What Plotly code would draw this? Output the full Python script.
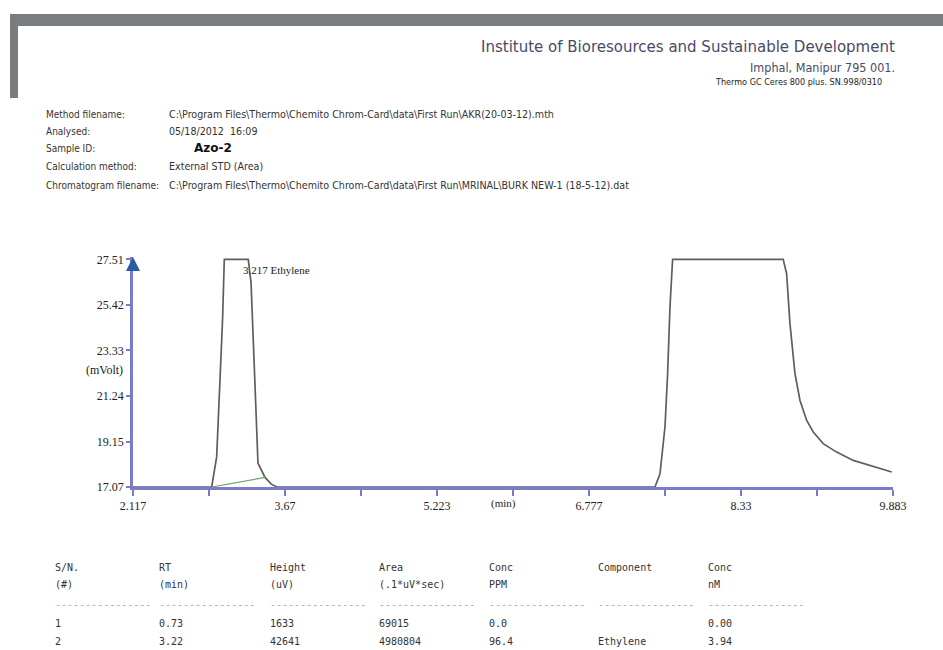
import plotly.graph_objects as go

# ---------------- data ----------------
retention_time = [2.117, 2.921, 2.972, 3.006, 3.032, 3.050, 3.295, 3.310, 3.323, 3.363, 3.394, 3.466, 3.530, 3.588,
                  7.451, 7.502, 7.553, 7.580, 7.604, 7.631, 8.761, 8.796, 8.830, 8.881, 8.932, 9.000,
                  9.068, 9.170, 9.307, 9.477, 9.682, 9.870]
signal_mv = [17.07, 17.07, 18.45, 21.82, 24.71, 27.51, 27.51, 26.90, 26.46, 21.82, 18.16, 17.51, 17.20, 17.07,
             17.07, 17.68, 19.82, 22.27, 25.32, 27.51, 27.51, 26.85, 24.57, 22.28, 21.05, 20.13,
             19.59, 19.06, 18.67, 18.29, 18.02, 17.76]
baseline_rt = [2.921, 3.466]
baseline_mv = [17.07, 17.51]

x_tick_vals = [2.117, 3.67, 5.223, 6.777, 8.33, 9.883]
x_tick_text = ["2.117", "3.67", "5.223", "6.777", "8.33", "9.883"]
x_minor_vals = [2.8935, 4.4465, 6.0, 7.5535, 9.1065]
y_tick_vals = [17.07, 19.15, 21.24, 23.33, 25.42, 27.51]
y_tick_text = ["17.07", "19.15", "21.24", "23.33", "25.42", "27.51"]

peak_label_rt = 3.217
peak_label = "3.217 Ethylene"

header_lines = ["Institute of Bioresources and Sustainable Development",
                "Imphal, Manipur 795 001.",
                "Thermo GC Ceres 800 plus. SN.998/0310"]
meta_labels = ["Method filename:", "Analysed:", "Sample ID:", "Calculation method:", "Chromatogram filename:"]
meta_values = [r"C:\Program Files\Thermo\Chemito Chrom-Card\data\First Run\AKR(20-03-12).mth",
               "05/18/2012  16:09",
               "Azo-2",
               "External STD (Area)",
               r"C:\Program Files\Thermo\Chemito Chrom-Card\data\First Run\MRINAL\BURK NEW-1 (18-5-12).dat"]

table_head1 = ["S/N.", "RT", "Height", "Area", "Conc", "Component", "Conc"]
table_head2 = ["(#)", "(min)", "(uV)", "(.1*uV*sec)", "PPM", "", "nM"]
table_sn = ["1", "2"]
table_rt = ["0.73", "3.22"]
table_height = ["1633", "42641"]
table_area = ["69015", "4980804"]
table_ppm = ["0.0", "96.4"]
table_component = ["", "Ethylene"]
table_nm = ["0.00", "3.94"]

# ---------------- layout helpers (pixel -> paper) ----------------
W, H = 943, 650
ML, MR, MT, MB = 133, 50, 257, 163
PW, PH = W - ML - MR, H - MT - MB


def px(x):
    return (x - ML) / PW


def py(y):
    return (H - MB - y) / PH


AXIS = "#7b7bc9"
ARROW = "#2d5aa8"
LINE = "#5e5e5e"
NARROW = "Liberation Sans Narrow, DejaVu Sans Condensed, sans-serif"

fig = go.Figure()
fig.add_trace(go.Scatter(x=retention_time, y=signal_mv, mode="lines",
                         line=dict(color=LINE, width=1.7), hoverinfo="skip"))
fig.add_trace(go.Scatter(x=baseline_rt, y=baseline_mv, mode="lines",
                         line=dict(color="#6aa86a", width=1.2), hoverinfo="skip"))

ann = []
# peak label
ann.append(dict(x=peak_label_rt, y=27.02, xref="x", yref="y", text=peak_label, showarrow=False,
                xanchor="left", yanchor="middle",
                font=dict(family="Liberation Serif, serif", size=11, color="#222")))
# axis units
ann.append(dict(x=px(125), y=py(370), xref="paper", yref="paper", text="(mVolt)", showarrow=False,
                xanchor="right", yanchor="middle",
                font=dict(family="Liberation Serif, serif", size=12, color="#222")))
ann.append(dict(x=px(503), y=py(503), xref="paper", yref="paper", text="(min)", showarrow=False,
                xanchor="center", yanchor="middle",
                font=dict(family="Liberation Serif, serif", size=11, color="#222")))
# arrowheads on axes
ann.append(dict(x=2.117, y=27.616, xref="x", yref="y", ax=0, ay=14, text="", showarrow=True,
                arrowhead=2, arrowsize=1.4, arrowwidth=2, arrowcolor=ARROW, standoff=0))
ann.append(dict(x=9.883 + 0.02, y=17.07, xref="x", yref="y", ax=-14, ay=0, text="", showarrow=True,
                arrowhead=2, arrowsize=1.4, arrowwidth=2, arrowcolor=ARROW, standoff=0))

# header
ann.append(dict(x=px(897), y=py(47), xref="paper", yref="paper", text=header_lines[0], showarrow=False,
                xanchor="right", yanchor="middle",
                font=dict(family="DejaVu Sans, sans-serif", size=15, color="#4a4a68")))
ann.append(dict(x=px(897), y=py(67), xref="paper", yref="paper", text=header_lines[1], showarrow=False,
                xanchor="right", yanchor="middle",
                font=dict(family="DejaVu Sans Condensed, DejaVu Sans, sans-serif", size=12.5, color="#4a4a68")))
ann.append(dict(x=px(884), y=py(82), xref="paper", yref="paper", text=header_lines[2], showarrow=False,
                xanchor="right", yanchor="middle",
                font=dict(family=NARROW, size=9, color="#222")))

# metadata
meta_y = [114, 131, 148, 166, 185]
for lab, val, yy in zip(meta_labels, meta_values, meta_y):
    ann.append(dict(x=px(44), y=py(yy), xref="paper", yref="paper", text=lab, showarrow=False,
                    xanchor="left", yanchor="middle",
                    font=dict(family=NARROW, size=10, color="#333")))
    if val == "Azo-2":
        ann.append(dict(x=px(192), y=py(yy), xref="paper", yref="paper", text="<b>" + val + "</b>",
                        showarrow=False, xanchor="left", yanchor="middle",
                        font=dict(family="DejaVu Sans, sans-serif", size=12, color="#111")))
    else:
        ann.append(dict(x=px(167), y=py(yy), xref="paper", yref="paper", text=val, showarrow=False,
                        xanchor="left", yanchor="middle",
                        font=dict(family=NARROW, size=10.6, color="#333")))

# table
col_x = [53, 157, 268, 377, 487, 596, 706]
MONO = dict(family="DejaVu Sans Mono, monospace", size=10, color="#333")


def tcell(text, x, y, color=None):
    f = dict(MONO)
    if color:
        f["color"] = color
    ann.append(dict(x=px(x), y=py(y), xref="paper", yref="paper", text=text, showarrow=False,
                    xanchor="left", yanchor="middle", font=f))


for i, cx in enumerate(col_x):
    tcell(table_head1[i], cx, 567)
    if table_head2[i]:
        tcell(table_head2[i], cx, 584)
    tcell("-" * 16, cx, 604, "#aaa")
rows = list(zip(table_sn, table_rt, table_height, table_area, table_ppm, table_component, table_nm))
for r, yy in zip(rows, [623, 641]):
    for cx, val in zip(col_x, r):
        if val:
            tcell(val, cx, yy)

shapes = [
    dict(type="rect", xref="paper", yref="paper", x0=px(10), x1=px(943), y0=py(26), y1=py(14),
         fillcolor="#7a7d80", line=dict(width=0), layer="above"),
    dict(type="rect", xref="paper", yref="paper", x0=px(10), x1=px(18), y0=py(98), y1=py(14),
         fillcolor="#7a7d80", line=dict(width=0), layer="above"),
]

fig.update_layout(
    width=W, height=H,
    margin=dict(l=ML, r=MR, t=MT, b=MB),
    paper_bgcolor="white", plot_bgcolor="white",
    showlegend=False,
    annotations=ann, shapes=shapes,
    xaxis=dict(range=[2.117, 9.883], tickvals=x_tick_vals, ticktext=x_tick_text,
               ticks="outside", ticklen=6, tickwidth=1.5, tickcolor=AXIS,
               minor=dict(tickvals=x_minor_vals, ticks="outside", ticklen=6, tickwidth=1.5, tickcolor=AXIS),
               showline=True, linecolor=AXIS, linewidth=2.5, showgrid=False, zeroline=False,
               tickfont=dict(family="Liberation Serif, serif", size=12, color="#222")),
    yaxis=dict(range=[17.07, 27.616], tickvals=y_tick_vals, ticktext=y_tick_text,
               ticks="outside", ticklen=4, tickwidth=1.5, tickcolor=AXIS,
               showline=True, linecolor=AXIS, linewidth=2.5, showgrid=False, zeroline=False,
               tickfont=dict(family="Liberation Serif, serif", size=12, color="#222")),
)

fig.write_html("out.html", config={"displayModeBar": False},
               post_script="document.body.style.margin='0';document.body.style.overflow='hidden';")
